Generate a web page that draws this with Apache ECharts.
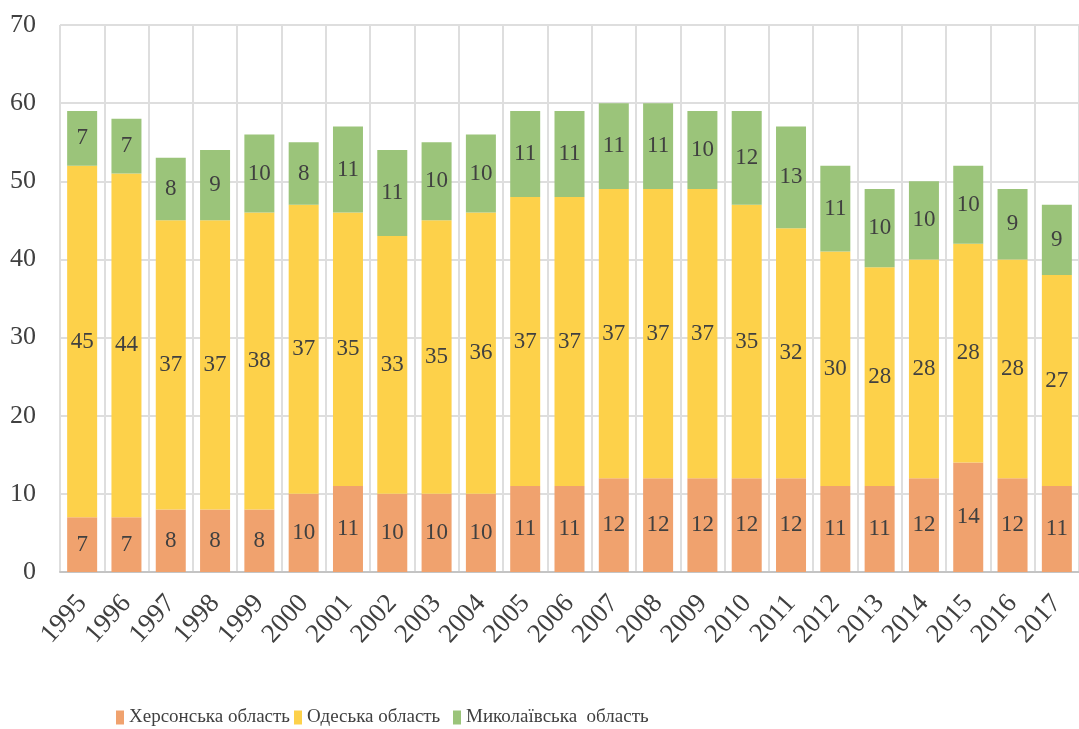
<!DOCTYPE html>
<html>
<head>
<meta charset="utf-8">
<script src="https://cdn.jsdelivr.net/npm/echarts@6/dist/echarts.min.js"></script>
<style>
  html, body { margin: 0; padding: 0; background: #fff; }
  #chart { width: 1079px; height: 729px; }
</style>
</head>
<body>
<div id="chart"></div>
<script>
var years = ['1995', '1996', '1997', '1998', '1999', '2000', '2001', '2002', '2003', '2004', '2005', '2006',
  '2007', '2008', '2009', '2010', '2011', '2012', '2013', '2014', '2015', '2016', '2017']
var kherson = [7, 7, 8, 8, 8, 10, 11, 10, 10, 10, 11, 11, 12, 12, 12, 12, 12, 11, 11, 12, 14, 12, 11]
var odesa = [45, 44, 37, 37, 38, 37, 35, 33, 35, 36, 37, 37, 37, 37, 37, 35, 32, 30, 28, 28, 28, 28, 27]
var mykolaiv = [7, 7, 8, 9, 10, 8, 11, 11, 10, 10, 11, 11, 11, 11, 10, 12, 13, 11, 10, 10, 10, 9, 9]
var seriesNames = ['Херсонська область', 'Одеська область', 'Миколаївська  область']

var font = '"Liberation Serif", "Times New Roman", serif'
var colors = ['#f0a26e', '#fdd14a', '#9bc47a']

var myChart = echarts.init(document.getElementById('chart'))

function makeSeries (name, data, color) {
  return {
    name: name,
    type: 'bar',
    stack: 'total',
    data: data,
    barWidth: 30,
    itemStyle: { color: color },
    label: {
      show: true,
      position: 'inside',
      color: '#404040',
      fontFamily: font,
      fontSize: 23
    }
  }
}

// one legend per item so each sits where the original has it
var legendLefts = [111, 289, 448]
function makeLegend (i) {
  return {
    left: legendLefts[i],
    top: 703,
    itemWidth: 8,
    itemHeight: 14,
    itemGap: 0,
    icon: 'rect',
    textStyle: { fontFamily: font, fontSize: 19, color: '#404040' },
    data: [seriesNames[i]]
  }
}

var option = {
  animation: false,
  color: colors,
  textStyle: { fontFamily: font },
  grid: {
    left: 60,
    top: 25,
    width: 1026,
    height: 547
  },
  legend: [makeLegend(0), makeLegend(1), makeLegend(2)],
  xAxis: {
    type: 'category',
    data: years,
    axisLine: { lineStyle: { color: '#c4c4c4', width: 2 } },
    axisTick: { show: false },
    splitLine: { show: true, lineStyle: { color: '#dedede', width: 2 } },
    axisLabel: {
      rotate: 48,
      margin: 27,
      color: '#404040',
      fontFamily: font,
      fontSize: 27,
      interval: 0
    }
  },
  yAxis: {
    type: 'value',
    min: 0,
    max: 70,
    interval: 10,
    axisLine: { show: false },
    axisTick: { show: false },
    splitLine: { lineStyle: { color: '#dedede', width: 2 } },
    axisLabel: {
      margin: 24,
      color: '#404040',
      fontFamily: font,
      fontSize: 26
    }
  },
  series: [
    makeSeries(seriesNames[0], kherson, colors[0]),
    makeSeries(seriesNames[1], odesa, colors[1]),
    makeSeries(seriesNames[2], mykolaiv, colors[2])
  ]
}

myChart.setOption(option)
</script>
</body>
</html>
